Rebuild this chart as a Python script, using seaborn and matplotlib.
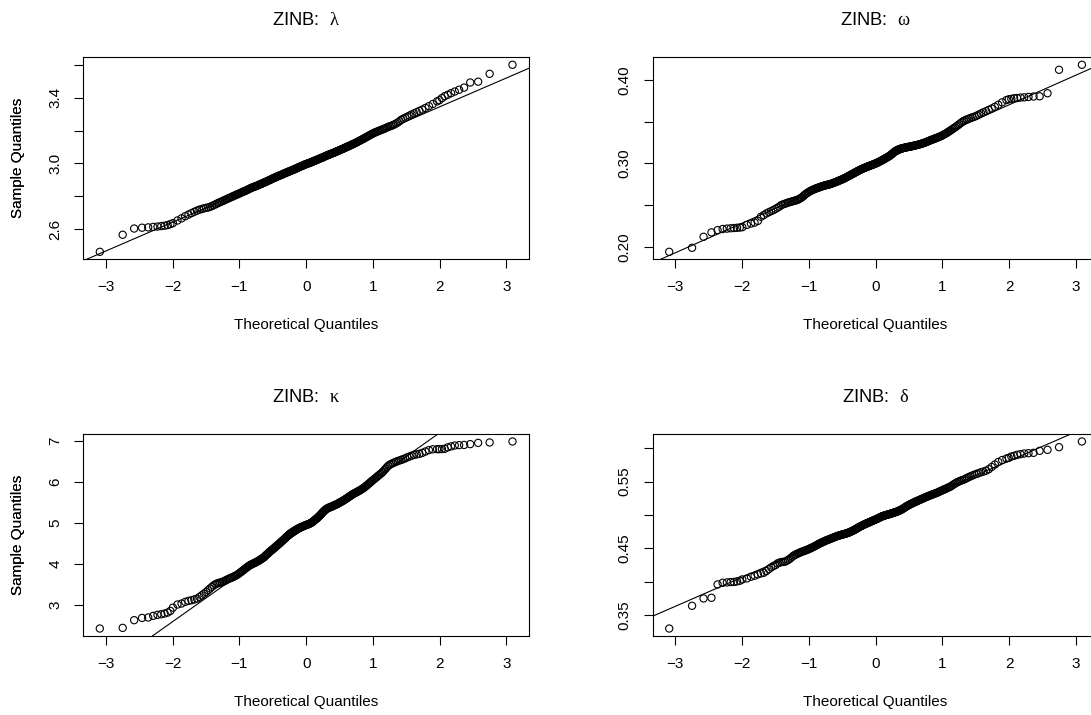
import numpy as np
import matplotlib
matplotlib.use("Agg")
import matplotlib.pyplot as plt
import seaborn as sns
from statistics import NormalDist

# ---------------- data (sample quantiles) ----------------
N = 500  # sample size of every Q-Q plot
# order statistics that are drawn (every one in the extreme tails, every 2nd elsewhere)
RANKS = list(range(1, 13)) + list(range(14, 487, 2)) + list(range(488, 501))

LAMBDA = [
    2.461, 2.565, 2.603, 2.608, 2.610, 2.613, 2.615, 2.618, 2.620, 2.624, 2.630, 2.636,
    2.652, 2.665, 2.678, 2.688, 2.697, 2.705, 2.712, 2.718, 2.722, 2.726, 2.729, 2.731, 2.735, 2.740,
    2.745, 2.750, 2.755, 2.760, 2.764, 2.768, 2.772, 2.776, 2.780, 2.784, 2.788, 2.791, 2.795,
    2.798, 2.801, 2.805, 2.808, 2.811, 2.814, 2.817, 2.820, 2.823, 2.826, 2.829, 2.831,
    2.834, 2.837, 2.840, 2.843, 2.846, 2.849, 2.851, 2.854, 2.856, 2.858, 2.860, 2.862,
    2.864, 2.866, 2.869, 2.871, 2.873, 2.875, 2.878, 2.880, 2.882, 2.884, 2.887, 2.889,
    2.891, 2.893, 2.896, 2.898, 2.900, 2.902, 2.905, 2.907, 2.909, 2.911, 2.913, 2.915,
    2.917, 2.919, 2.921, 2.923, 2.925, 2.927, 2.929, 2.930, 2.932, 2.934, 2.936, 2.938,
    2.940, 2.942, 2.944, 2.945, 2.947, 2.949, 2.951, 2.952, 2.954, 2.956, 2.958, 2.959,
    2.961, 2.963, 2.965, 2.966, 2.968, 2.970, 2.972, 2.974, 2.976, 2.978, 2.980, 2.981,
    2.983, 2.985, 2.987, 2.988, 2.990, 2.992, 2.994, 2.995, 2.997, 2.998, 3.000, 3.001,
    3.003, 3.004, 3.006, 3.007, 3.009, 3.011, 3.013, 3.014, 3.016, 3.018, 3.020, 3.021,
    3.023, 3.025, 3.027, 3.028, 3.030, 3.032, 3.034, 3.035, 3.037, 3.039, 3.041, 3.043,
    3.045, 3.047, 3.049, 3.050, 3.052, 3.054, 3.056, 3.057, 3.059, 3.061, 3.063, 3.064,
    3.066, 3.068, 3.070, 3.072, 3.074, 3.076, 3.078, 3.080, 3.082, 3.084, 3.086, 3.088,
    3.090, 3.092, 3.095, 3.097, 3.099, 3.101, 3.104, 3.106, 3.108, 3.110, 3.113, 3.115,
    3.118, 3.120, 3.123, 3.125, 3.128, 3.131, 3.134, 3.137, 3.140, 3.143, 3.146, 3.149,
    3.152, 3.156, 3.159, 3.163, 3.166, 3.170, 3.173, 3.177, 3.180, 3.184, 3.187, 3.190,
    3.193, 3.196, 3.199, 3.202, 3.205,
    3.208, 3.211, 3.215, 3.219, 3.223, 3.226, 3.229, 3.233, 3.238, 3.243, 3.249, 3.257,
    3.266, 3.272, 3.278, 3.284, 3.291, 3.298, 3.305, 3.312, 3.320, 3.328, 3.338, 3.349, 3.362,
    3.378, 3.385, 3.398, 3.410, 3.418, 3.428, 3.438, 3.449, 3.462, 3.493, 3.498, 3.546, 3.601]

OMEGA = [
    0.1940, 0.1988, 0.2120, 0.2173, 0.2200, 0.2213, 0.2218, 0.2222, 0.2225, 0.2228, 0.2231, 0.2235,
    0.2262, 0.2278, 0.2290, 0.2310, 0.2360, 0.2380, 0.2400, 0.2415, 0.2428, 0.2440, 0.2454, 0.2468, 0.2482, 0.2500,
    0.2508, 0.2515, 0.2522, 0.2530, 0.2535, 0.2540, 0.2545, 0.2550, 0.2554, 0.2560, 0.2566, 0.2574, 0.2583,
    0.2592, 0.2605, 0.2618, 0.2630, 0.2640, 0.2649, 0.2657, 0.2665, 0.2672, 0.2678, 0.2684, 0.2690,
    0.2695, 0.2699, 0.2704, 0.2708, 0.2712, 0.2716, 0.2720, 0.2724, 0.2728, 0.2731, 0.2734, 0.2737,
    0.2740, 0.2742, 0.2745, 0.2747, 0.2750, 0.2753, 0.2757, 0.2760, 0.2764, 0.2768, 0.2772, 0.2775,
    0.2779, 0.2783, 0.2787, 0.2791, 0.2795, 0.2799, 0.2803, 0.2806, 0.2810, 0.2815, 0.2819, 0.2824,
    0.2828, 0.2833, 0.2838, 0.2842, 0.2847, 0.2852, 0.2856, 0.2861, 0.2865, 0.2870, 0.2875, 0.2879,
    0.2884, 0.2889, 0.2893, 0.2898, 0.2902, 0.2907, 0.2911, 0.2916, 0.2920, 0.2924, 0.2928, 0.2932,
    0.2936, 0.2939, 0.2943, 0.2946, 0.2949, 0.2952, 0.2956, 0.2959, 0.2962, 0.2965, 0.2969, 0.2972,
    0.2975, 0.2978, 0.2981, 0.2984, 0.2987, 0.2990, 0.2994, 0.2997, 0.3000, 0.3004, 0.3008, 0.3012,
    0.3016, 0.3020, 0.3024, 0.3028, 0.3032, 0.3037, 0.3041, 0.3046, 0.3050, 0.3055, 0.3060, 0.3065,
    0.3070, 0.3074, 0.3079, 0.3083, 0.3088, 0.3095, 0.3101, 0.3108, 0.3115, 0.3122, 0.3129, 0.3136,
    0.3143, 0.3148, 0.3153, 0.3157, 0.3162, 0.3165, 0.3169, 0.3172, 0.3175, 0.3177, 0.3180, 0.3182,
    0.3184, 0.3186, 0.3188, 0.3190, 0.3192, 0.3194, 0.3196, 0.3197, 0.3199, 0.3201, 0.3203, 0.3205,
    0.3207, 0.3209, 0.3212, 0.3214, 0.3216, 0.3218, 0.3221, 0.3223, 0.3226, 0.3229, 0.3232, 0.3235,
    0.3238, 0.3242, 0.3245, 0.3249, 0.3253, 0.3258, 0.3262, 0.3267, 0.3272, 0.3276, 0.3281, 0.3285,
    0.3290, 0.3294, 0.3299, 0.3303, 0.3308, 0.3313, 0.3319, 0.3324, 0.3330, 0.3337, 0.3345, 0.3352,
    0.3360, 0.3369, 0.3379, 0.3388, 0.3398,
    0.3410, 0.3420, 0.3430, 0.3442, 0.3455, 0.3468, 0.3482, 0.3496, 0.3508, 0.3518, 0.3527, 0.3535,
    0.3544, 0.3551, 0.3559, 0.3570, 0.3583, 0.3597, 0.3611, 0.3625, 0.3640, 0.3656, 0.3676, 0.3701, 0.3730,
    0.3757, 0.3767, 0.3771, 0.3779, 0.3782, 0.3787, 0.3790, 0.3795, 0.3800, 0.3802, 0.3839, 0.4120, 0.4180]

KAPPA = [
    2.432, 2.448, 2.635, 2.690, 2.700, 2.740, 2.765, 2.780, 2.797, 2.820, 2.860, 2.940,
    3.016, 3.040, 3.080, 3.105, 3.120, 3.140, 3.160, 3.200, 3.240, 3.280, 3.320, 3.365, 3.405, 3.446,
    3.480, 3.510, 3.528, 3.540, 3.550, 3.560, 3.575, 3.590, 3.608, 3.625, 3.640, 3.655, 3.668,
    3.680, 3.695, 3.710, 3.725, 3.740, 3.760, 3.780, 3.800, 3.820, 3.840, 3.860, 3.880,
    3.900, 3.918, 3.935, 3.953, 3.970, 3.982, 3.993, 4.004, 4.015, 4.026, 4.038, 4.049,
    4.060, 4.072, 4.085, 4.097, 4.110, 4.124, 4.138, 4.151, 4.165, 4.184, 4.203, 4.221,
    4.240, 4.258, 4.275, 4.293, 4.310, 4.325, 4.340, 4.355, 4.370, 4.386, 4.403, 4.419,
    4.435, 4.450, 4.465, 4.480, 4.495, 4.511, 4.528, 4.544, 4.560, 4.575, 4.590, 4.605,
    4.620, 4.638, 4.655, 4.673, 4.690, 4.704, 4.718, 4.731, 4.745, 4.756, 4.768, 4.779,
    4.790, 4.800, 4.810, 4.820, 4.830, 4.840, 4.850, 4.860, 4.870, 4.878, 4.885, 4.893,
    4.900, 4.908, 4.915, 4.923, 4.930, 4.936, 4.943, 4.949, 4.955, 4.961, 4.968, 4.974,
    4.980, 4.989, 4.998, 5.006, 5.015, 5.029, 5.043, 5.056, 5.070, 5.084, 5.098, 5.111,
    5.125, 5.141, 5.158, 5.174, 5.190, 5.209, 5.228, 5.246, 5.265, 5.281, 5.298, 5.314,
    5.330, 5.340, 5.350, 5.360, 5.370, 5.376, 5.383, 5.389, 5.395, 5.404, 5.413, 5.421,
    5.430, 5.438, 5.445, 5.453, 5.460, 5.471, 5.483, 5.494, 5.505, 5.515, 5.525, 5.535,
    5.545, 5.558, 5.570, 5.583, 5.595, 5.609, 5.623, 5.636, 5.650, 5.664, 5.678, 5.691,
    5.705, 5.716, 5.728, 5.739, 5.750, 5.763, 5.775, 5.788, 5.800, 5.815, 5.830, 5.845,
    5.860, 5.880, 5.900, 5.920, 5.940, 5.963, 5.985, 6.008, 6.030, 6.053, 6.075, 6.098,
    6.120, 6.145, 6.170, 6.195, 6.220,
    6.250, 6.285, 6.320, 6.360, 6.395, 6.420, 6.440, 6.456, 6.474, 6.492, 6.508, 6.522,
    6.538, 6.554, 6.574, 6.598, 6.618, 6.639, 6.659, 6.671, 6.682, 6.707, 6.740, 6.774, 6.794,
    6.797, 6.797, 6.800, 6.805, 6.840, 6.865, 6.886, 6.895, 6.900, 6.920, 6.950, 6.960, 6.984]

DELTA = [
    0.3300, 0.3640, 0.3750, 0.3760, 0.3960, 0.3985, 0.3990, 0.3995, 0.3997, 0.4005, 0.4015, 0.4035,
    0.4050, 0.4075, 0.4090, 0.4110, 0.4125, 0.4135, 0.4160, 0.4190, 0.4215, 0.4235, 0.4250, 0.4275, 0.4285, 0.4295,
    0.4297, 0.4300, 0.4312, 0.4325, 0.4342, 0.4360, 0.4378, 0.4395, 0.4405, 0.4415, 0.4425, 0.4434, 0.4442,
    0.4450, 0.4456, 0.4462, 0.4469, 0.4475, 0.4483, 0.4490, 0.4498, 0.4505, 0.4513, 0.4520, 0.4528,
    0.4535, 0.4544, 0.4553, 0.4561, 0.4570, 0.4576, 0.4583, 0.4589, 0.4595, 0.4601, 0.4608, 0.4614,
    0.4620, 0.4625, 0.4630, 0.4635, 0.4640, 0.4645, 0.4650, 0.4655, 0.4660, 0.4665, 0.4670, 0.4675,
    0.4680, 0.4684, 0.4688, 0.4691, 0.4695, 0.4698, 0.4702, 0.4705, 0.4708, 0.4711, 0.4714, 0.4717,
    0.4720, 0.4724, 0.4728, 0.4731, 0.4735, 0.4740, 0.4745, 0.4750, 0.4755, 0.4760, 0.4765, 0.4770,
    0.4775, 0.4781, 0.4788, 0.4794, 0.4800, 0.4806, 0.4813, 0.4819, 0.4825, 0.4830, 0.4835, 0.4840,
    0.4845, 0.4850, 0.4855, 0.4860, 0.4865, 0.4869, 0.4874, 0.4878, 0.4882, 0.4887, 0.4891, 0.4896,
    0.4900, 0.4905, 0.4909, 0.4914, 0.4918, 0.4922, 0.4927, 0.4931, 0.4935, 0.4940, 0.4945, 0.4950,
    0.4955, 0.4960, 0.4965, 0.4970, 0.4975, 0.4979, 0.4983, 0.4986, 0.4990, 0.4993, 0.4996, 0.4999,
    0.5002, 0.5005, 0.5008, 0.5010, 0.5013, 0.5017, 0.5020, 0.5024, 0.5027, 0.5030, 0.5034, 0.5037,
    0.5040, 0.5044, 0.5048, 0.5051, 0.5055, 0.5060, 0.5065, 0.5070, 0.5075, 0.5081, 0.5088, 0.5094,
    0.5100, 0.5108, 0.5115, 0.5123, 0.5130, 0.5136, 0.5143, 0.5149, 0.5155, 0.5161, 0.5167, 0.5172,
    0.5178, 0.5184, 0.5189, 0.5195, 0.5200, 0.5206, 0.5211, 0.5217, 0.5222, 0.5228, 0.5234, 0.5239,
    0.5245, 0.5251, 0.5257, 0.5262, 0.5268, 0.5274, 0.5279, 0.5285, 0.5290, 0.5296, 0.5301, 0.5307,
    0.5312, 0.5318, 0.5324, 0.5329, 0.5335, 0.5343, 0.5350, 0.5358, 0.5365, 0.5373, 0.5380, 0.5388,
    0.5395, 0.5404, 0.5413, 0.5421, 0.5430,
    0.5445, 0.5458, 0.5470, 0.5483, 0.5494, 0.5504, 0.5513, 0.5521, 0.5530, 0.5542, 0.5555, 0.5568,
    0.5580, 0.5592, 0.5605, 0.5615, 0.5627, 0.5640, 0.5650, 0.5663, 0.5685, 0.5718, 0.5755, 0.5793, 0.5822,
    0.5845, 0.5855, 0.5875, 0.5885, 0.5900, 0.5910, 0.5920, 0.5925, 0.5930, 0.5960, 0.5975, 0.6015, 0.6100]

TITLES = [r"ZINB:  $\mathrm{\lambda}$", r"ZINB:  $\mathrm{\omega}$",
          r"ZINB:  $\mathrm{\kappa}$", r"ZINB:  $\mathrm{\delta}$"]
X_TICKS = [-3, -2, -1, 0, 1, 2, 3]
Y_TICKS = [[2.6, 2.8, 3.0, 3.2, 3.4, 3.6],
           [0.20, 0.25, 0.30, 0.35, 0.40],
           [3, 4, 5, 6, 7],
           [0.35, 0.40, 0.45, 0.50, 0.55, 0.60]]
Y_TICK_LABELS = [["2.6", "", "3.0", "", "3.4", ""],
                 ["0.20", "", "0.30", "", "0.40"],
                 ["3", "4", "5", "6", "7"],
                 ["0.35", "", "0.45", "", "0.55", ""]]
SERIES = [LAMBDA, OMEGA, KAPPA, DELTA]
for s in SERIES:
    assert len(s) == len(RANKS), (len(s), len(RANKS))

# ---------------- style ----------------
sns.set_theme(style="white")
plt.rcParams["font.family"] = ["Liberation Sans", "DejaVu Sans"]
plt.rcParams["mathtext.fontset"] = "custom"
plt.rcParams["mathtext.rm"] = "Liberation Serif"
plt.rcParams["text.color"] = "black"
plt.rcParams["axes.labelcolor"] = "black"
plt.rcParams["xtick.color"] = "black"
plt.rcParams["ytick.color"] = "black"

W, H = 1091, 715
fig = plt.figure(figsize=(W / 100, H / 100), dpi=100)
fig.patch.set_facecolor("white")

# panel boxes in pixels: (left, top); common width/height
BOX_W, BOX_H = 445.7, 202.0
LEFTS = [83.3, 652.7, 83.3, 652.7]
TOPS = [57.3, 57.3, 434.0, 434.0]

nd = NormalDist()
theo = [nd.inv_cdf((r - 0.5) / N) for r in RANKS]

for k in range(4):
    left, top = LEFTS[k], TOPS[k]
    ax = fig.add_axes([left / W, (H - top - BOX_H) / H, BOX_W / W, BOX_H / H])
    ax.set_facecolor("white")
    y = SERIES[k]

    sns.scatterplot(x=theo, y=y, ax=ax, marker="o", s=27,
                    facecolor="none", edgecolor="black", linewidth=0.8,
                    legend=False, zorder=3)

    # qqline through the first and third quartiles
    h1 = (N - 1) * 0.25 + 1
    h3 = (N - 1) * 0.75 + 1
    q1 = np.interp(h1, RANKS, y)
    q3 = np.interp(h3, RANKS, y)
    z1, z3 = nd.inv_cdf(0.25), nd.inv_cdf(0.75)
    slope = (q3 - q1) / (z3 - z1)
    icpt = q1 - slope * z1
    ax.axline((0, icpt), slope=slope, color="black", lw=0.8, zorder=2)

    # R-like 4% axis extension
    xr = (min(theo), max(theo))
    yr = (min(y), max(y))
    dx = 0.04 * (xr[1] - xr[0])
    dy = 0.04 * (yr[1] - yr[0])
    ax.set_xlim(xr[0] - dx, xr[1] + dx)
    ax.set_ylim(yr[0] - dy, yr[1] + dy)

    ax.set_xticks(X_TICKS)
    ax.set_xticklabels([str(t).replace("-", "\u2212") for t in X_TICKS])
    ax.set_yticks(Y_TICKS[k])
    ax.set_yticklabels(Y_TICK_LABELS[k])
    ax.tick_params(axis="both", which="both", direction="out", length=6.6,
                   width=0.8, labelsize=11, pad=8.6, colors="black",
                   bottom=True, left=True, top=False, right=False)
    for lab in ax.get_yticklabels():
        lab.set_rotation(90)
        lab.set_va("center")
        lab.set_ha("right")

    for sp in ax.spines.values():
        sp.set_visible(True)
        sp.set_color("black")
        sp.set_linewidth(0.8)
    ax.grid(False)

    ax.set_xlabel("Theoretical Quantiles", fontsize=11)
    ax.set_ylabel("Sample Quantiles", fontsize=11)
    ax.xaxis.label.set_va("center")
    ax.yaxis.label.set_va("center")
    ax.xaxis.set_label_coords(0.5, -65.7 / BOX_H)
    ax.yaxis.set_label_coords(-(left - 18.3) / BOX_W, 0.5)

    fig.text((left + BOX_W / 2) / W, 1 - (top - 36.6) / H, TITLES[k],
             ha="center", va="center", fontsize=13.2)

fig.savefig("out.png", dpi=100, facecolor="white")
